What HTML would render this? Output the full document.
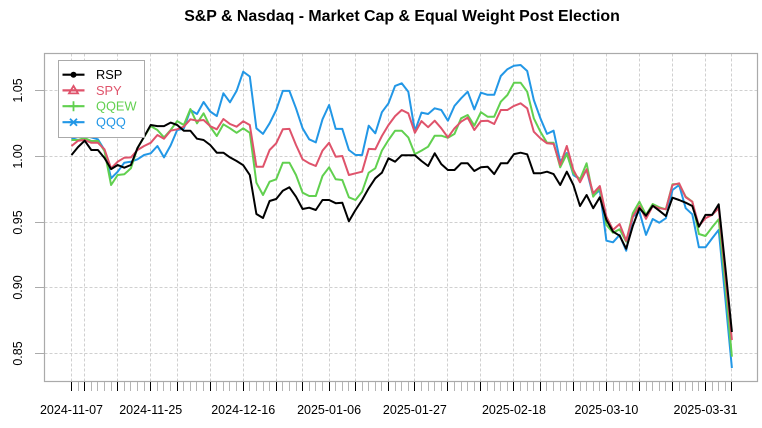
<!DOCTYPE html>
<html>
<head>
<meta charset="utf-8">
<title>S&amp;P &amp; Nasdaq - Market Cap &amp; Equal Weight Post Election</title>
<style>
html,body{margin:0;padding:0;background:#fff;}
svg{display:block;font-family:"Liberation Sans",Arial,sans-serif;}
</style>
</head>
<body>
<svg id="chart" xmlns="http://www.w3.org/2000/svg" width="762" height="428" viewBox="0 0 762 428">
<rect x="0" y="0" width="762" height="428" fill="#fff"/>
<text x="402" y="21" text-anchor="middle" font-size="15.9" font-weight="bold" fill="#000">S&amp;P &amp; Nasdaq - Market Cap &amp; Equal Weight Post Election</text>
<g id="grid"></g>
<g id="series"></g>
<g id="axes"></g>
<g id="legend"></g>
</svg>
<script>
const dates = [
"2024-11-07","2024-11-08","2024-11-11","2024-11-12","2024-11-13","2024-11-14","2024-11-15","2024-11-18","2024-11-19","2024-11-20","2024-11-21","2024-11-22","2024-11-25","2024-11-26","2024-11-27","2024-11-29",
"2024-12-02","2024-12-03","2024-12-04","2024-12-05","2024-12-06","2024-12-09","2024-12-10","2024-12-11","2024-12-12","2024-12-13","2024-12-16","2024-12-17","2024-12-18","2024-12-19","2024-12-20","2024-12-23","2024-12-24","2024-12-26","2024-12-27","2024-12-30","2024-12-31",
"2025-01-02","2025-01-03","2025-01-06","2025-01-07","2025-01-08","2025-01-10","2025-01-13","2025-01-14","2025-01-15","2025-01-16","2025-01-17","2025-01-21","2025-01-22","2025-01-23","2025-01-24","2025-01-27","2025-01-28","2025-01-29","2025-01-30","2025-01-31",
"2025-02-03","2025-02-04","2025-02-05","2025-02-06","2025-02-07","2025-02-10","2025-02-11","2025-02-12","2025-02-13","2025-02-14","2025-02-18","2025-02-19","2025-02-20","2025-02-21","2025-02-24","2025-02-25","2025-02-26","2025-02-27","2025-02-28",
"2025-03-03","2025-03-04","2025-03-05","2025-03-06","2025-03-07","2025-03-10","2025-03-11","2025-03-12","2025-03-13","2025-03-14","2025-03-17","2025-03-18","2025-03-19","2025-03-20","2025-03-21","2025-03-24","2025-03-25","2025-03-26","2025-03-27","2025-03-28","2025-03-31",
"2025-04-01","2025-04-02","2025-04-03","2025-04-04"];
const majorDates = ["2024-11-07","2024-11-11","2024-11-18","2024-11-25","2024-12-02","2024-12-09","2024-12-16","2024-12-23","2024-12-30","2025-01-06","2025-01-13","2025-01-21","2025-01-27","2025-02-03","2025-02-10","2025-02-18","2025-02-24","2025-03-03","2025-03-10","2025-03-17","2025-03-24","2025-03-31","2025-04-04"];
const labelDates = ["2024-11-07","2024-11-25","2024-12-16","2025-01-06","2025-01-27","2025-02-18","2025-03-10","2025-03-31"];
const yTicks = [0.85,0.90,0.95,1.00,1.05];
const yTickLabels = ["0.85","0.90","0.95","1.00","1.05"];
const rsp = [1.0010,1.0071,1.0119,1.0048,1.0048,0.9987,0.9903,0.9934,0.9913,0.9934,1.0063,1.0149,1.0238,1.0230,1.0230,1.0256,1.0238,1.0195,1.0195,1.0134,1.0124,1.0086,1.0027,1.0027,0.9992,0.9964,0.9932,0.9858,0.9561,0.9531,0.9660,0.9675,0.9738,0.9764,0.9693,0.9599,0.9609,0.9592,0.9668,0.9668,0.9643,0.9647,0.9506,0.9592,0.9668,0.9757,0.9833,0.9875,0.9985,0.9959,1.0008,1.0008,1.0008,0.9964,0.9926,1.0023,0.9941,0.9896,0.9896,0.9947,0.9947,0.9888,0.9916,0.9921,0.9865,0.9947,0.9947,1.0017,1.0027,1.0015,0.9871,0.9871,0.9883,0.9865,0.9782,0.9883,0.9782,0.9622,0.9706,0.9605,0.9688,0.9516,0.9427,0.9396,0.9297,0.9470,0.9605,0.9548,0.9624,0.9586,0.9546,0.9685,0.9668,0.9647,0.9622,0.9465,0.9554,0.9554,0.9635,0.9158,0.8664];
const spy = [1.0078,1.0119,1.0124,1.0103,1.0103,1.0053,0.9909,0.9959,0.9989,0.9992,1.0048,1.0078,1.0103,1.0162,1.0134,1.0195,1.0205,1.0225,1.0281,1.0271,1.0276,1.0230,1.0205,1.0284,1.0246,1.0225,1.0266,1.0238,0.9921,0.9921,1.0048,1.0099,1.0205,1.0208,1.0086,0.9977,0.9947,0.9926,1.0043,1.0103,0.9997,1.0002,0.9858,0.9871,0.9883,1.0056,1.0053,1.0154,1.0238,1.0306,1.0352,1.0327,1.0179,1.0268,1.0221,1.0271,1.0213,1.0144,1.0213,1.0263,1.0294,1.0200,1.0268,1.0271,1.0246,1.0352,1.0352,1.0383,1.0403,1.0365,1.0187,1.0137,1.0099,1.0094,0.9934,1.0078,0.9896,0.9802,0.9901,0.9719,0.9774,0.9541,0.9440,0.9485,0.9358,0.9541,0.9622,0.9525,0.9622,0.9605,0.9597,0.9782,0.9795,0.9688,0.9655,0.9470,0.9529,0.9554,0.9605,0.9105,0.8603];
const qqew = [1.0124,1.0124,1.0139,1.0116,1.0116,1.0040,0.9782,0.9858,0.9863,0.9909,1.0063,1.0147,1.0230,1.0200,1.0144,1.0200,1.0268,1.0238,1.0360,1.0251,1.0327,1.0225,1.0154,1.0243,1.0213,1.0179,1.0213,1.0179,0.9799,0.9706,0.9807,0.9825,0.9951,0.9951,0.9858,0.9723,0.9698,0.9698,0.9850,0.9916,0.9825,0.9820,0.9688,0.9668,0.9731,0.9875,0.9909,1.0043,1.0124,1.0195,1.0195,1.0144,1.0017,1.0043,1.0073,1.0157,1.0157,1.0141,1.0170,1.0289,1.0314,1.0233,1.0335,1.0301,1.0301,1.0415,1.0466,1.0560,1.0560,1.0491,1.0289,1.0187,1.0103,1.0103,0.9916,1.0017,0.9871,0.9825,0.9947,0.9693,0.9764,0.9478,0.9419,0.9445,0.9351,0.9567,0.9655,0.9554,0.9637,0.9612,0.9597,0.9787,0.9789,0.9693,0.9655,0.9409,0.9394,0.9460,0.9521,0.9021,0.8476];
const qqq = [1.0132,1.0147,1.0154,1.0144,1.0129,1.0048,0.9833,0.9883,0.9951,0.9959,0.9977,1.0010,1.0023,1.0078,0.9992,1.0082,1.0200,1.0211,1.0352,1.0322,1.0413,1.0341,1.0306,1.0479,1.0411,1.0497,1.0643,1.0607,1.0213,1.0170,1.0251,1.0352,1.0497,1.0497,1.0365,1.0213,1.0129,1.0106,1.0281,1.0390,1.0208,1.0208,1.0048,1.0010,1.0010,1.0233,1.0175,1.0335,1.0403,1.0535,1.0555,1.0491,1.0192,1.0332,1.0322,1.0365,1.0352,1.0271,1.0383,1.0441,1.0491,1.0357,1.0484,1.0468,1.0468,1.0611,1.0662,1.0689,1.0694,1.0649,1.0428,1.0289,1.0170,1.0195,0.9959,1.0025,0.9858,0.9825,0.9896,0.9698,0.9744,0.9358,0.9346,0.9402,0.9282,0.9541,0.9579,0.9402,0.9523,0.9495,0.9529,0.9744,0.9782,0.9605,0.9559,0.9308,0.9308,0.9376,0.9440,0.8922,0.8390];

const SVGNS = "http://www.w3.org/2000/svg";
const plot = {left:44.5, right:757.5, top:53.5, bottom:381.5};
const xScale = function(i){ return 71.5 + 6.604*i; };
const yScale = function(v){ return 156.3 - (v-1)*1315; };
function make(tag, parent, attrs){
  const el = document.createElementNS(SVGNS, tag);
  for (const k in attrs) el.setAttribute(k, attrs[k]);
  parent.appendChild(el);
  return el;
}
const gridG = document.getElementById("grid");
const axesG = document.getElementById("axes");
const seriesG = document.getElementById("series");
const legendG = document.getElementById("legend");

/* grid */
majorDates.forEach(function(d){
  const x = Math.floor(xScale(dates.indexOf(d)))+0.5;
  const el = make("line", gridG, {x1:x,x2:x,y1:plot.top,y2:plot.bottom,stroke:"#d0d0d0","stroke-width":1,"stroke-dasharray":"3 2"});
  
  
});
yTicks.forEach(function(v){
  const y = Math.floor(yScale(v))+0.5;
  const el = make("line", gridG, {x1:plot.left,x2:plot.right,y1:y,y2:y,stroke:"#d0d0d0","stroke-width":1,"stroke-dasharray":"3 2"});
  
  
});

/* series: drawn so RSP ends on top */
const seriesDefs = [
  {key:"qqq", values:qqq, color:"#2297E6"},
  {key:"qqew", values:qqew, color:"#61D04F"},
  {key:"spy", values:spy, color:"#DF536B"},
  {key:"rsp", values:rsp, color:"#000000"}
];
seriesDefs.forEach(function(s){
  const pts = s.values.map(function(v,i){ return xScale(i).toFixed(1)+","+yScale(v).toFixed(1); }).join(" ");
  const el = make("polyline", seriesG, {points:pts,fill:"none",stroke:s.color,"stroke-width":2,"stroke-linejoin":"round","stroke-linecap":"butt"});
  
  
});

/* axes box */
const box = make("rect", axesG, {x:plot.left,y:plot.top,width:plot.right-plot.left,height:plot.bottom-plot.top,fill:"none",stroke:"#aaaaaa","stroke-width":1.2});



/* x ticks */
dates.forEach(function(d,i){
  const x = Math.floor(xScale(i))+0.5;
  const major = majorDates.indexOf(d) >= 0;
  const el = make("line", axesG, {x1:x,x2:x,y1:plot.bottom+0.5,y2:391,stroke:major?"#000000":"#b4b4b4","stroke-width":1});
  
  
});
labelDates.forEach(function(d){
  const el = make("text", axesG, {x:xScale(dates.indexOf(d)),y:414,"text-anchor":"middle","font-size":12.5,fill:"#000"});
  el.textContent = d;
  
  
});

/* y ticks */
yTicks.forEach(function(v,i){
  const y = Math.floor(yScale(v))+0.5;
  const t = make("line", axesG, {x1:35,x2:plot.left,y1:y,y2:y,stroke:"#aaaaaa","stroke-width":1});
  
  
  const el = make("text", axesG, {x:22,y:y,"text-anchor":"middle","font-size":12.5,fill:"#000",transform:"rotate(-90 22 "+y+")"});
  el.textContent = yTickLabels[i];
  
  
});

/* legend */
const legendBox = make("rect", legendG, {x:58.5,y:60.5,width:86,height:77,fill:"#fff",stroke:"#aaaaaa","stroke-width":1});


const legendNames = ["RSP","SPY","QQEW","QQQ"];
const legendColors = ["#000000","#DF536B","#61D04F","#2297E6"];
const legendYs = [74.7,90.4,106.2,122.2];
legendNames.forEach(function(n,i){
  const y = legendYs[i], c = legendColors[i];
  const ln = make("line", legendG, {x1:62.5,x2:84.5,y1:y,y2:y,stroke:c,"stroke-width":2.2});
  
  
  let m;
  if (i === 0) {
    m = make("circle", legendG, {cx:73.5,cy:y,r:3,fill:c});
  } else if (i === 1) {
    m = make("path", legendG, {d:"M73.5 "+(y-4.5)+"L78 "+(y+3)+"L69 "+(y+3)+"Z",fill:"none",stroke:c,"stroke-width":1.8});
  } else if (i === 2) {
    m = make("path", legendG, {d:"M73.5 "+(y-5)+"V"+(y+5)+"M68.5 "+y+"H78.5",fill:"none",stroke:c,"stroke-width":1.8});
  } else {
    m = make("path", legendG, {d:"M70 "+(y-3.5)+"L77 "+(y+3.5)+"M70 "+(y+3.5)+"L77 "+(y-3.5)+"M68.5 "+y+"H78.5",fill:"none",stroke:c,"stroke-width":1.8});
  }
  
  
  const t = make("text", legendG, {x:96,y:y+4.5,"font-size":12.8,fill:c});
  t.textContent = n;
  
  
});
</script>
</body>
</html>
